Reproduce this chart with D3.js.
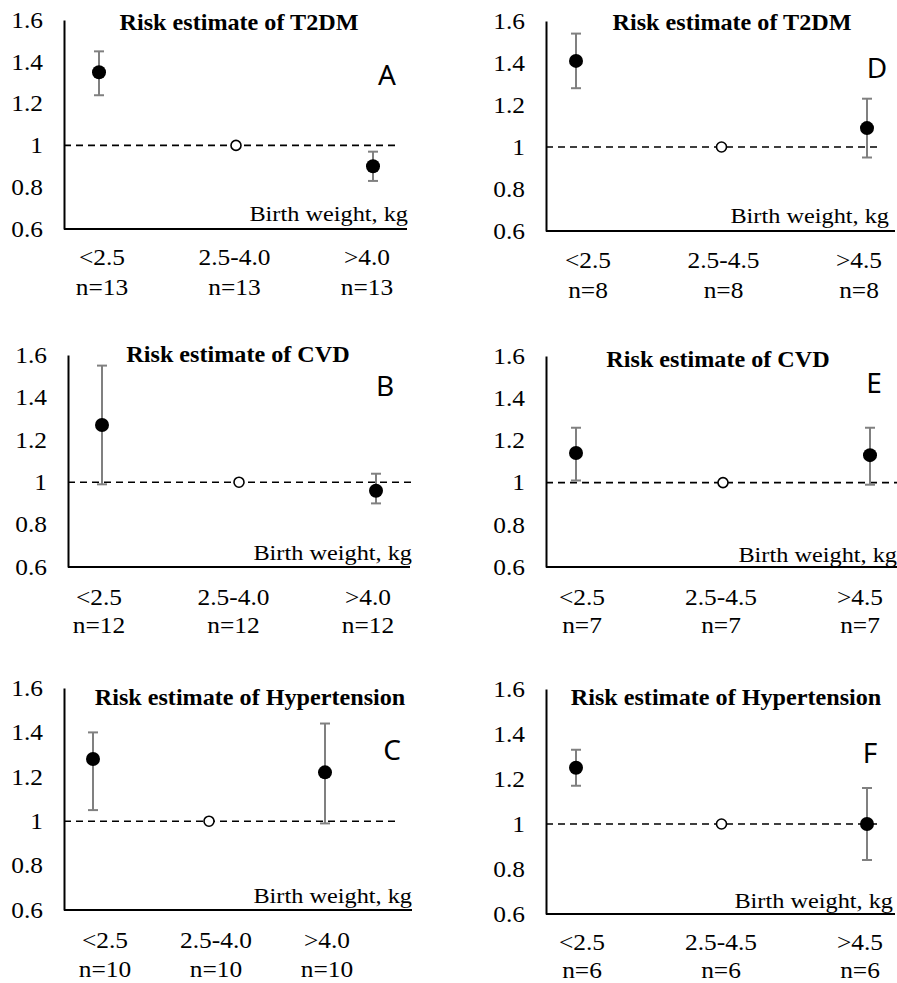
<!DOCTYPE html>
<html>

<head>
    <title>Birth weight and risk estimates</title>
    <script src="https://d3js.org/d3.v7.min.js"></script>
    <style>
        body { margin: 0; background: #fff; }
    </style>
</head>

<body>

    <svg width="897" height="983" id="mainSvg"></svg>
    <script>
        // ---- data ----
        const panelLetters = ["A", "B", "C", "D", "E", "F"];
        const outcomes = ["T2DM", "CVD", "Hypertension", "T2DM", "CVD", "Hypertension"];
        const groupsLow = ["<2.5", "2.5-4.0", ">4.0"];
        const groupsHigh = ["<2.5", "2.5-4.5", ">4.5"];
        const studyCounts = [13, 12, 10, 8, 7, 6];
        // reference group (middle) = 1, no interval
        const estimates = [
            [1.35, 1, 0.90],
            [1.27, 1, 0.96],
            [1.28, 1, 1.22],
            [1.41, 1, 1.09],
            [1.14, 1, 1.13],
            [1.25, 1, 1.00]
        ];
        const lowerCI = [
            [1.24, null, 0.83],
            [0.99, null, 0.90],
            [1.05, null, 0.99],
            [1.28, null, 0.95],
            [1.01, null, 0.99],
            [1.17, null, 0.84]
        ];
        const upperCI = [
            [1.45, null, 0.97],
            [1.55, null, 1.04],
            [1.40, null, 1.44],
            [1.54, null, 1.23],
            [1.26, null, 1.26],
            [1.33, null, 1.16]
        ];
        const yTicks = [0.6, 0.8, 1, 1.2, 1.4, 1.6];

        // ---- layout of each panel (pixels) ----
        const layout = [
            { x0: 64, x1: 407, top: 20, bottom: 229, pts: [99, 373], labs: [102, 367], dashEnd: 397, titleX: 239, titleY: 30, letterX: 387, letterY: 85, bwX: 408, bwY: 221, row1: 265, row2: 295 },
            { x0: 68, x1: 410, top: 355, bottom: 567, pts: [102, 376], labs: [99, 368], dashEnd: 416, titleX: 238, titleY: 362, letterX: 385, letterY: 396, bwX: 412, bwY: 560, row1: 605, row2: 633 },
            { x0: 64, x1: 412, top: 688, bottom: 910, pts: [93, 325], labs: [105, 327], dashEnd: 397, titleX: 250, titleY: 705, letterX: 392, letterY: 760, bwX: 412, bwY: 903, row1: 948, row2: 977 },
            { x0: 546, x1: 895, top: 21, bottom: 231, pts: [576, 867], labs: [588, 859], dashEnd: 880, titleX: 732, titleY: 30, letterX: 877, letterY: 78, bwX: 889, bwY: 223, row1: 268, row2: 298 },
            { x0: 546, x1: 897, top: 356, bottom: 567, pts: [576, 870], labs: [582, 860], dashEnd: 897, titleX: 718, titleY: 367, letterX: 874, letterY: 393, bwX: 897, bwY: 562, row1: 605, row2: 633 },
            { x0: 546, x1: 895, top: 689, bottom: 914, pts: [576, 867], labs: [582, 860], dashEnd: 882, titleX: 726, titleY: 705, letterX: 870, letterY: 763, bwX: 893, bwY: 908, row1: 950, row2: 978 }
        ];

        const serif = "'Liberation Serif', 'Times New Roman', serif";
        const stretch = 1.13; // the source picture is a little wider than tall

        const mainSvg = d3.select("#mainSvg");

        // text helper: places text at x,y and widens it a bit
        const label = function (g, x, y, str, size, anchor, sx) {
            return g.append("text")
                .attr("transform", `translate(${x},${y}) scale(${sx},1)`)
                .attr("text-anchor", anchor)
                .attr("font-family", serif)
                .attr("font-size", size)
                .attr("fill", "#000")
                .text(str);
        }

        const renderPanel = function (i) {
            const L = layout[i];
            const groups = i < 3 ? groupsLow : groupsHigh;
            const g = mainSvg.append("g").attr("class", "panel");

            const y = d3.scaleLinear().domain([0.6, 1.6]).range([L.bottom, L.top]);
            const x = d3.scalePoint().domain(groups).range(L.pts);
            const xl = d3.scalePoint().domain(groups).range(L.labs);

            // y axis
            const yAxis = g.append("g")
                .attr("transform", `translate(${L.x0},0)`)
                .call(d3.axisLeft(y)
                    .tickValues(yTicks)
                    .tickSize(0)
                    .tickSizeOuter(0)
                    .tickPadding(21 / stretch)
                    .tickFormat(d => d === 1 ? "1" : d.toFixed(1)));
            yAxis.select(".domain").attr("stroke", "#000").attr("stroke-width", 2);
            yAxis.selectAll("text")
                .attr("font-family", serif)
                .attr("font-size", 22.5)
                .attr("fill", "#000")
                .attr("transform", `scale(${stretch},1)`);

            // x axis line
            g.append("line")
                .attr("x1", L.x0).attr("x2", L.x1)
                .attr("y1", y(0.6)).attr("y2", y(0.6))
                .attr("stroke", "#000").attr("stroke-width", 2);

            // reference line at 1
            g.append("line")
                .attr("x1", L.x0).attr("x2", L.dashEnd)
                .attr("y1", y(1)).attr("y2", y(1))
                .attr("stroke", "#000").attr("stroke-width", 1.6)
                .attr("stroke-dasharray", "7,5");

            const rows = groups.map((grp, j) => ({
                grp: grp,
                est: estimates[i][j],
                lo: lowerCI[i][j],
                hi: upperCI[i][j]
            }));

            // error bars
            const bars = rows.filter(d => d.lo !== null);
            g.selectAll(".ci").data(bars).join("line")
                .attr("class", "ci")
                .attr("x1", d => x(d.grp)).attr("x2", d => x(d.grp))
                .attr("y1", d => y(d.lo)).attr("y2", d => y(d.hi))
                .attr("stroke", "#808080").attr("stroke-width", 2);
            ["lo", "hi"].forEach(k => {
                g.selectAll(".cap-" + k).data(bars).join("line")
                    .attr("class", "cap-" + k)
                    .attr("x1", d => x(d.grp) - 5).attr("x2", d => x(d.grp) + 5)
                    .attr("y1", d => y(d[k])).attr("y2", d => y(d[k]))
                    .attr("stroke", "#808080").attr("stroke-width", 2);
            });

            // points
            g.selectAll(".pt").data(rows).join("circle")
                .attr("class", "pt")
                .attr("cx", d => x(d.grp))
                .attr("cy", d => y(d.est))
                .attr("r", d => d.lo === null ? 5 : 7)
                .attr("fill", d => d.lo === null ? "#fff" : "#000")
                .attr("stroke", "#000")
                .attr("stroke-width", d => d.lo === null ? 1.6 : 0);

            // title, panel letter, axis label
            label(g, L.titleX, L.titleY, "Risk estimate of " + outcomes[i], 23, "middle", 1.05)
                .attr("font-weight", "bold");
            g.append("text")
                .attr("x", L.letterX).attr("y", L.letterY)
                .attr("text-anchor", "middle")
                .attr("font-family", "'Noto Sans', 'Open Sans', sans-serif")
                .attr("font-size", 28)
                .attr("fill", "#000")
                .text(panelLetters[i]);
            label(g, L.bwX, L.bwY, "Birth weight, kg", 21.5, "end", stretch);

            // category labels
            groups.forEach(grp => {
                label(g, xl(grp), L.row1, grp, 22.5, "middle", stretch);
                label(g, xl(grp), L.row2, "n=" + studyCounts[i], 22.5, "middle", stretch);
            });
        }

        d3.range(6).forEach(renderPanel);
    </script>
</body>

</html>
